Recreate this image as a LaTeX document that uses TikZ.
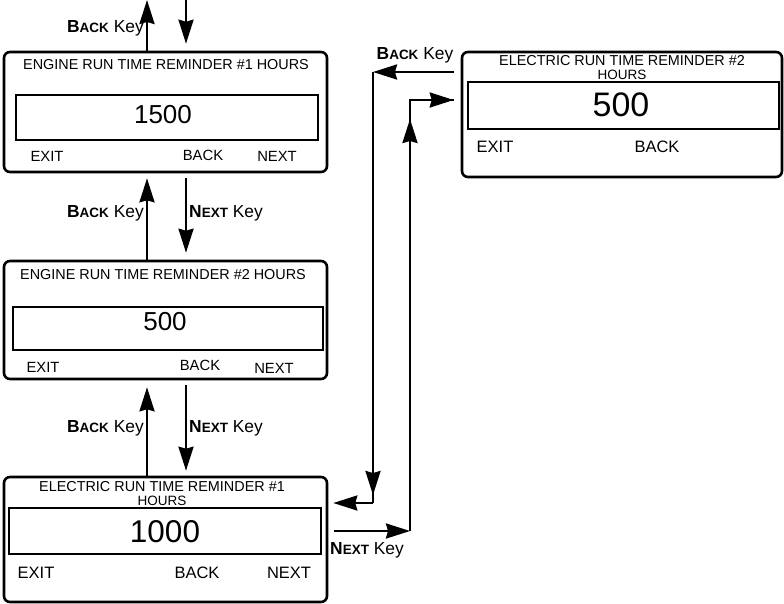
\documentclass[tikz,border=0pt]{standalone}
\usepackage{fontspec}
\setmainfont{Liberation Sans}
\usetikzlibrary{arrows.meta}
\newcommand{\keyname}[2]{\textbf{#1{\fontsize{13.5}{13.5}\selectfont #2}}}
\tikzstyle{panel} = [rectangle, draw=black, line width=2.6pt, rounded corners=6pt, inner sep=0pt]
\tikzstyle{display} = [rectangle, draw=black, line width=1.2pt, inner sep=0pt]
\tikzstyle{title} = [inner sep=0pt, align=center, font=\fontsize{14.4}{12.2}\selectfont]
\tikzstyle{softkey} = [inner sep=0pt, font=\fontsize{14.8}{14.8}\selectfont]
\tikzstyle{bigkey} = [inner sep=0pt, font=\fontsize{16.5}{16.5}\selectfont]
\tikzstyle{keylbl} = [inner sep=0pt, font=\fontsize{17.4}{17.4}\selectfont]
\tikzstyle{arrow} = [line width=2.4pt, -{Stealth[length=24pt, width=15pt, inset=2pt]}]
\tikzstyle{wire} = [line width=2.4pt]
\begin{document}
\begin{tikzpicture}[x=1pt, y=-1pt]
\useasboundingbox (0,0) rectangle (784,603);

% Engine reminder #1
\node[panel, minimum width=323pt, minimum height=120pt] (eng1) at (165.5,112) {};
\node[title] (eng1t) at (166,65) {ENGINE RUN TIME REMINDER \#1 HOURS};
\node[display, minimum width=302pt, minimum height=45pt] (eng1d) at (167,117.5) {};
\node[inner sep=0pt, font=\fontsize{26}{26}\selectfont] (eng1v) at (163,115) {1500};
\node[softkey] (eng1x) at (47,156) {EXIT};
\node[softkey] (eng1b) at (203,155) {BACK};
\node[softkey] (eng1n) at (277,156) {NEXT};

% Engine reminder #2
\node[panel, minimum width=323pt, minimum height=118pt] (eng2) at (165.5,320) {};
\node[title] (eng2t) at (163,275) {ENGINE RUN TIME REMINDER \#2 HOURS};
\node[display, minimum width=310pt, minimum height=43pt] (eng2d) at (168,328.5) {};
\node[inner sep=0pt, font=\fontsize{26}{26}\selectfont] (eng2v) at (165,322) {500};
\node[softkey] (eng2x) at (43,367) {EXIT};
\node[softkey] (eng2b) at (200,365) {BACK};
\node[softkey] (eng2n) at (274,368) {NEXT};

% Electric reminder #1
\node[panel, minimum width=323pt, minimum height=125pt] (ele1) at (165.5,539.5) {};
\node[title] (ele1t) at (162,487) {ELECTRIC RUN TIME REMINDER \#1};
\node[title, font=\fontsize{13.5}{13.5}\selectfont] (ele1h) at (162,501) {HOURS};
\node[display, minimum width=312pt, minimum height=46pt] (ele1d) at (165,531) {};
\node[inner sep=0pt, font=\fontsize{31.5}{31.5}\selectfont] (ele1v) at (165,532) {1000};
\node[bigkey] (ele1x) at (36,573) {EXIT};
\node[bigkey] (ele1b) at (197,573) {BACK};
\node[bigkey] (ele1n) at (289,573) {NEXT};

% Electric reminder #2
\node[panel, minimum width=320pt, minimum height=125pt] (ele2) at (622,114.5) {};
\node[title] (ele2t) at (622,61) {ELECTRIC RUN TIME REMINDER \#2};
\node[title, font=\fontsize{13.5}{13.5}\selectfont] (ele2h) at (622,75) {HOURS};
\node[display, minimum width=311pt, minimum height=47pt] (ele2d) at (623.5,105.5) {};
\node[inner sep=0pt, font=\fontsize{34}{34}\selectfont] (ele2v) at (621,105) {500};
\node[bigkey] (ele2x) at (495,147) {EXIT};
\node[bigkey] (ele2b) at (657,147) {BACK};

% Free ends and corners
\coordinate (topup) at (147,0);
\coordinate (topdown) at (186,0);
\coordinate (nxtc1) at (410,531);
\coordinate (nxtc2) at (410,100);
\coordinate (bckc1) at (373,72);
\coordinate (bckc2) at (373,503);

% Vertical key arrows
\draw[arrow] ([xshift=-18.5pt]eng1.north) -- (topup);
\draw[arrow] (topdown) -- ([xshift=20.5pt, yshift=7pt]eng1.north);
\draw[arrow] ([xshift=-18.5pt]eng2.north) -- ([xshift=-18.5pt, yshift=-5pt]eng1.south);
\draw[arrow] ([xshift=20.5pt, yshift=-5pt]eng1.south) -- ([xshift=20.5pt, yshift=7pt]eng2.north);
\draw[arrow] ([xshift=-18.5pt]ele1.north) -- ([xshift=-18.5pt, yshift=-7pt]eng2.south);
\draw[arrow] ([xshift=20.5pt, yshift=-5pt]eng2.south) -- ([xshift=20.5pt, yshift=5pt]ele1.north);

% Electric loop
\draw[arrow] ([xshift=6pt, yshift=8.5pt]ele1.east) -- (nxtc1);
\draw[wire] (nxtc1) -- (nxtc2) -- ([xshift=-7pt, yshift=14.5pt]ele2.west);
\draw[arrow] (nxtc1) -- ([yshift=-19pt]nxtc2);
\draw[arrow] (nxtc2) -- ([xshift=-7pt, yshift=14.5pt]ele2.west);
\draw[arrow] ([xshift=-7pt, yshift=42.5pt]ele2.west) -- (bckc1);
\draw[wire] (bckc1) -- (bckc2);
\draw[arrow] (bckc1) -- ([yshift=8pt]bckc2);
\draw[arrow] (bckc2) -- ([xshift=5pt, yshift=36.5pt]ele1.east);

% Key labels
\node[keylbl, anchor=east] (lbl0) at (144,28) {\keyname{B}{ACK} Key};
\node[keylbl, anchor=east] (lbl1) at (144,213) {\keyname{B}{ACK} Key};
\node[keylbl, anchor=west] (lbl2) at (189,213) {\keyname{N}{EXT} Key};
\node[keylbl, anchor=east] (lbl3) at (144,428) {\keyname{B}{ACK} Key};
\node[keylbl, anchor=west] (lbl4) at (189,428) {\keyname{N}{EXT} Key};
\node[keylbl] (lbl5) at (415,55) {\keyname{B}{ACK} Key};
\node[keylbl, anchor=west] (lbl6) at (330,550) {\keyname{N}{EXT} Key};
\end{tikzpicture}
\end{document}
